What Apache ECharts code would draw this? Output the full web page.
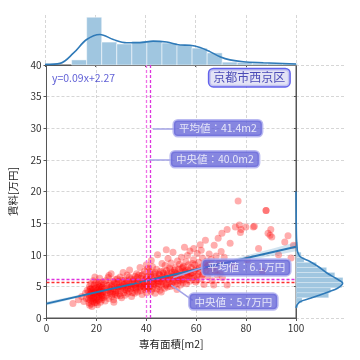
<!DOCTYPE html>
<html><head><meta charset="utf-8">
<script src="https://cdn.jsdelivr.net/npm/echarts@6.0.0/dist/echarts.min.js"></script>
<style>html,body{margin:0;padding:0;background:#fff;}#chart{width:360px;height:360px;}</style>
</head><body><div id="chart"></div>
<script>
// ---- data ----
// listings: [floor area m2, rent 万円]
const listings = [
[10.6,2.3],[12.8,2.9],[14.1,3.4],[15.0,2.6],[15.6,3.9],[16.0,3.1],[16.3,4.4],
[16.8,3.0],[16.9,4.2],[17.0,2.4],[17.1,3.6],[17.2,5.0],[17.3,2.0],[17.4,3.3],[17.5,4.6],[17.6,2.8],[17.7,3.9],
[17.8,5.4],[17.9,2.2],[18.0,3.5],[18.1,4.3],[18.2,1.8],[18.3,3.1],[18.4,4.8],[18.5,2.6],[18.6,3.8],[18.7,5.9],
[18.8,3.2],[18.9,4.5],[19.0,2.9],[19.1,4.0],[19.2,5.2],[19.3,2.4],[19.4,3.6],[19.5,4.7],[19.6,3.0],[19.7,4.2],
[19.8,5.6],[19.9,2.7],[20.0,3.9],[20.1,4.9],[20.2,3.3],[20.3,4.4],[20.4,2.1],[20.5,3.7],[20.6,5.3],[20.7,4.1],
[20.8,2.8],[20.9,4.6],[21.0,3.4],[21.1,5.0],[21.2,4.0],[21.3,6.3],[21.4,3.1],[21.5,4.3],[21.6,2.5],[21.7,3.8],
[21.8,5.1],[21.9,4.5],[22.0,3.5],[22.1,4.8],[22.2,2.9],[22.3,4.1],[22.4,5.7],[22.5,3.6],[22.5,4.9],[19.4,6.5],
[18.2,4.0],[20.0,2.4],[21.0,5.6],[17.7,4.6],[22.2,3.2],
[22.7,4.2],[22.9,5.4],[23.1,3.3],[23.3,4.7],[23.5,2.7],[23.7,5.9],[23.9,4.0],[24.1,3.6],[24.3,5.1],[24.5,4.4],
[24.7,6.4],[24.9,3.1],[25.1,4.8],[25.3,5.5],[25.5,3.9],[25.7,4.5],[25.9,7.0],[26.1,3.4],[26.3,5.2],[26.5,4.1],
[26.7,5.8],[26.9,2.9],[27.1,4.6],[27.3,5.0],[27.5,3.7],[27.7,6.1],[27.9,4.3],[28.1,5.4],[28.3,3.5],[28.5,4.9],
[25.0,6.7],[27.0,2.5],
[25.4,4.2],[26.0,5.0],[26.6,3.8],[27.2,5.6],[27.8,4.0],[28.4,6.2],[29.0,4.9],[29.6,3.5],[30.2,6.0],[30.8,5.1],
[31.4,4.5],[32.0,5.8],[32.6,4.7],[33.2,6.5],[33.8,5.2],[34.4,4.0],
[28.7,4.6],[28.9,5.8],[29.1,3.8],[29.3,5.2],[29.5,6.5],[29.7,4.3],[29.9,5.0],[30.1,3.2],[30.3,5.6],[30.5,4.7],
[30.7,7.2],[30.9,4.0],[31.1,5.3],[31.3,6.0],[31.5,3.6],[31.7,4.9],[31.9,5.5],[32.1,4.4],[32.3,6.8],[32.5,3.9],
[32.7,5.1],[32.9,5.9],[33.1,4.2],[33.3,7.6],[33.5,5.4],[33.7,4.6],[33.9,6.2],[34.1,3.4],[34.3,5.0],[34.5,5.7],
[34.7,4.8],[34.9,6.1],[35.1,5.3],[35.3,3.9],[35.5,6.6],[35.7,5.0],[35.9,4.4],[36.1,7.0],[36.3,5.6],[36.5,4.1],
[36.7,5.9],[36.9,6.8],[37.1,4.7],[37.3,5.4],[37.5,8.0],[37.7,4.3],[37.9,6.3],[38.1,5.1],[38.3,3.7],[38.5,5.8],
[38.7,6.9],[38.9,4.9],[39.1,5.5],[39.3,7.4],[39.5,4.5],[39.7,6.0],[39.9,5.2],[40.0,8.4],[40.1,4.0],[40.2,6.5],
[40.3,5.7],[40.4,7.8],[40.5,4.6],[36.0,5.5],
[35.2,5.9],[35.8,4.7],[36.4,6.4],[37.0,5.3],[37.6,4.9],[38.2,6.7],[38.8,5.6],[39.4,4.8],[40.0,6.2],[40.6,5.0],
[41.2,5.9],[41.8,6.9],[42.4,4.6],[43.0,5.5],[43.6,7.2],[44.2,6.0],[44.8,5.4],
[40.7,5.4],[40.9,6.7],[41.1,4.8],[41.3,6.1],[41.5,7.3],[41.7,5.1],[41.9,4.2],[42.1,6.4],[42.3,5.7],[42.5,8.1],
[42.7,4.9],[42.9,6.0],[43.1,7.0],[43.3,5.3],[43.5,3.9],[43.7,6.6],[43.9,5.6],[44.1,7.7],[44.3,4.6],[44.5,10.0],
[44.7,6.3],[44.9,5.0],[45.1,6.9],[45.3,5.8],[45.5,4.4],[45.7,7.4],[45.9,6.2],[46.1,5.2],[46.3,8.6],[46.5,6.5],
[42.0,9.1],[44.0,5.9],[46.0,4.1],[41.0,7.9],
[45.4,6.8],[46.0,5.7],[46.6,7.3],[47.2,6.2],[47.8,5.1],[48.4,7.0],[49.0,6.0],[49.6,7.7],[50.2,5.4],[50.8,6.6],
[51.4,7.2],[52.0,6.4],[52.6,5.5],[53.2,7.0],[53.8,6.3],[54.4,8.0],[55.0,6.0],[55.6,7.3],[56.2,6.7],[56.8,7.6],
[57.4,6.4],[58.0,7.1],[58.6,8.6],[59.4,7.5],[60.2,6.6],[61.2,7.9],[62.4,6.8],[63.6,8.0],
[46.7,5.7],[46.9,7.1],[47.1,6.0],[47.3,4.7],[47.5,8.3],[47.7,6.4],[47.9,5.3],[48.1,7.5],[48.3,6.8],[48.5,4.9],
[48.7,9.4],[48.9,6.2],[49.1,5.5],[49.3,7.9],[49.5,6.6],[49.7,5.0],[49.9,8.7],[50.1,6.3],[50.3,7.2],[50.5,5.6],
[50.7,10.4],[50.9,6.9],[51.1,5.1],[51.3,7.6],[51.5,6.1],[51.7,8.0],[51.9,5.8],[52.1,7.0],[52.3,4.5],[52.5,9.0],
[48.0,10.8],
[52.7,6.4],[52.9,7.7],[53.1,5.9],[53.3,8.5],[53.5,6.7],[53.7,5.2],[53.9,7.3],[54.1,9.6],[54.3,6.1],[54.5,7.9],
[54.7,5.6],[54.9,8.2],[55.1,6.9],[55.3,11.2],[55.5,7.5],[55.7,6.2],[55.9,8.9],[56.1,5.4],[56.3,7.1],[56.5,9.9],
[56.7,6.6],[56.9,8.4],[57.1,7.4],[57.3,5.8],[57.5,10.6],[57.7,7.0],[57.9,8.0],[58.3,6.3],
[58.7,7.2],[58.9,9.2],[59.2,6.5],[59.5,8.4],[59.8,5.7],[60.1,7.8],[60.4,10.2],[60.7,6.9],[61.0,8.8],[61.3,7.3],
[61.6,11.6],[61.9,6.2],[62.2,8.1],[62.5,9.5],[62.8,7.0],[63.1,5.3],[63.4,8.6],[63.7,12.3],[64.0,7.6],[64.3,9.0],
[60.0,6.0],[62.0,10.7],[59.0,11.0],[64.5,6.6],
[64.8,8.3],[65.2,10.1],[65.6,7.1],[66.0,9.3],[66.4,5.9],[66.8,8.0],[67.2,11.5],[67.0,5.2],[67.6,7.5],[68.0,9.8],
[68.4,6.8],[68.8,12.6],[69.2,8.7],[69.6,7.0],[70.0,10.5],[70.3,13.4],[70.5,6.4],
[71.2,9.6],[72.4,14.0],[72.4,5.2],[73.6,11.8],[75.0,8.2],[75.7,14.4],
[76.8,18.5],[77.3,14.7],[77.7,13.5],[78.0,14.0],[79.9,14.4],[80.5,9.2],
[82.9,14.4],[83.3,14.5],[85.0,11.0],[86.5,7.4],[88.0,17.0],[88.0,17.0],
[88.8,13.4],[89.6,13.1],[89.9,14.0],[90.3,12.8],[93.0,10.0],
[95.5,12.0],[96.8,13.0],[98.0,9.5],[99.0,11.5]
];

// marginal histogram of area (bin edges, counts)
const areaBinEdges = [10.6,16.6,22.6,28.6,34.6,40.6,46.6,52.6,58.6,64.6,70.6,76.6,82.6,88.6,94.6,100.6];
const areaBinCounts = [16,150,72,66,75,75,69,62,53,38,9,8,6,6,5];
// marginal KDE of area
const areaKdeX = [0,6,11.3,16.6,21.9,27.2,32.5,37.8,43.1,48.5,53.8,57.8,61.8,65.7,69.7,73.7,79,87,100];
const areaKdeY = [2,5,37,80,96,80,70,70,75,72,63,62,55,42,26,16,10,7,3];

// marginal histogram of rent
const rentBinEdges = [1.6,2.4,3.2,4.0,4.8,5.6,6.4,7.2,8.0,8.8,9.6,10.4,11.2,12.0];
const rentBinCounts = [2,6,32,34,45,46,38,30,20,8,5,2,1.5];
// marginal KDE of rent
const rentKdeY = [20,16,14,12.5,11.2,10.5,9.7,8.9,8.1,7.07,6.28,5.49,4.7,4.16,3.11,2.58,2.06,1.6];
const rentKdeW = [0,0.2,0.3,0.5,1,1.5,4,14,22,30.7,39,45.7,40.7,32.3,14,4,1,0];

// regression
const regSlope = 0.09, regIntercept = 2.27;
const bandX = [0,10,20,30,40,50,60,70,80,90,100];
const bandHalf = [0.3,0.22,0.15,0.1,0.08,0.1,0.16,0.26,0.4,0.55,0.72];

// statistics
const meanArea = 41.4, medianArea = 40.0, meanRent = 6.1, medianRent = 5.7;
const areaTicks = [0,20,40,60,80,100];
const rentTicks = [0,5,10,15,20,25,30,35,40];

const labels = {
  meanArea: '平均値：' + meanArea.toFixed(1) + 'm2',
  medianArea: '中央値：' + medianArea.toFixed(1) + 'm2',
  meanRent: '平均値：' + meanRent.toFixed(1) + '万円',
  medianRent: '中央値：' + medianRent.toFixed(1) + '万円',
  place: '京都市西京区',
  eq: 'y=' + regSlope.toFixed(2) + 'x+' + regIntercept.toFixed(2)
};

// ---- chart ----
const FONT = "'Noto Sans CJK JP','Noto Sans',sans-serif";
const topMax = 157, rightMax = 49;
const histFill = 'rgb(160,198,224)';
const kdeColor = '#2f7ab8';
const gridLine = {show:true, lineStyle:{color:'#cccccc', type:[3,2], width:0.8}};
const spine = '#555555';

const chart = echarts.init(document.getElementById('chart'), null, {renderer:'canvas'});

const boxStyle = {
  show:true, position:'inside', color:'#ffffff', fontSize:10.5, fontFamily:FONT,
  backgroundColor:'rgba(96,96,214,0.95)', borderColor:'#a9a9ee', borderWidth:1.5,
  borderRadius:4, padding:[3,5,2,5]
};
function boxLabel(pos, text){
  return {value:pos, label:Object.assign({}, boxStyle, {formatter:text})};
}

const arrowStyle = {color:'#a3a3e6', width:1.5, type:'solid'};

const option = {
  animation:false,
  textStyle:{fontFamily:FONT},
  grid:[
    {left:45, top:65, width:251, height:253, show:true, borderColor:spine, borderWidth:1, backgroundColor:'transparent'},
    {left:45, top:15, width:251, height:50},
    {left:296, top:65, width:50, height:253}
  ],
  xAxis:[
    {gridIndex:0, type:'value', min:0, max:100, interval:20,
     name:'専有面積[m2]', nameLocation:'middle', nameGap:21,
     nameTextStyle:{fontSize:10.5, color:'#222', fontFamily:FONT},
     axisLine:{show:true, lineStyle:{color:spine}}, axisTick:{show:true, length:3, lineStyle:{color:spine}},
     axisLabel:{fontSize:10, color:'#333', margin:5, fontFamily:FONT}, splitLine:gridLine},
    {gridIndex:1, type:'value', min:0, max:100, interval:20,
     axisLine:{show:true, lineStyle:{color:spine}}, axisTick:{show:true, length:2, lineStyle:{color:spine}},
     axisLabel:{show:false}, splitLine:gridLine},
    {gridIndex:2, type:'value', min:0, max:rightMax, show:false}
  ],
  yAxis:[
    {gridIndex:0, type:'value', min:0, max:40, interval:5,
     name:'賃料[万円]', nameLocation:'middle', nameGap:28, nameRotate:90,
     nameTextStyle:{fontSize:10.5, color:'#222', fontFamily:FONT},
     axisLine:{show:true, lineStyle:{color:spine}}, axisTick:{show:true, length:3, lineStyle:{color:spine}},
     axisLabel:{fontSize:10, color:'#333', margin:5, fontFamily:FONT}, splitLine:gridLine},
    {gridIndex:1, type:'value', min:0, max:topMax, show:false},
    {gridIndex:2, type:'value', min:0, max:40, interval:5,
     axisLine:{show:true, lineStyle:{color:spine}}, axisTick:{show:true, length:2, lineStyle:{color:spine}},
     axisLabel:{show:false}, splitLine:gridLine}
  ],
  series:[
    {type:'scatter', xAxisIndex:0, yAxisIndex:0, data:listings, symbolSize:7, z:2,
     itemStyle:{color:'rgba(255,0,0,0.4)', borderWidth:0}},
    {type:'custom', xAxisIndex:0, yAxisIndex:0, data:[[0,0]], z:3, silent:true,
     renderItem:function(params, api){
       const up = bandX.map((x,i)=>api.coord([x, regIntercept+regSlope*x+bandHalf[i]]));
       const lo = bandX.map((x,i)=>api.coord([x, regIntercept+regSlope*x-bandHalf[i]])).reverse();
       return {type:'polygon', shape:{points:up.concat(lo)}, style:{fill:'rgba(31,119,180,0.2)'}};
     }},
    {type:'line', xAxisIndex:0, yAxisIndex:0, z:4, symbol:'none', silent:true,
     data:[[0, regIntercept],[100, regIntercept+regSlope*100]],
     lineStyle:{color:'#2a77b5', width:2}},
    {type:'scatter', xAxisIndex:0, yAxisIndex:0, data:[], z:5, silent:true,
     markLine:{silent:true, symbol:'none', label:{show:false}, animation:false,
       data:[
         {xAxis:medianArea, lineStyle:{color:'#f070e6', type:[3,2], width:1.3}},
         {xAxis:meanArea, lineStyle:{color:'#dd33dd', type:[3,2], width:1.3}},
         {yAxis:meanRent, lineStyle:{color:'#dd33dd', type:[3,2], width:1.3}},
         {yAxis:medianRent, lineStyle:{color:'#ff2d2d', type:[3,2], width:1.3}}
       ]}},
    {type:'scatter', xAxisIndex:0, yAxisIndex:0, data:[], z:6, silent:true,
     markLine:{silent:true, symbol:['none','arrow'], symbolSize:[0,7], label:{show:false}, animation:false,
       data:[
         [{coord:[51.6,30], lineStyle:Object.assign({curveness:0}, arrowStyle)},{coord:[42.6,30]}],
         [{coord:[50.4,25], lineStyle:Object.assign({curveness:0}, arrowStyle)},{coord:[41.2,25]}],
         [{coord:[63.6,8.1], lineStyle:Object.assign({curveness:0.15}, arrowStyle)},{coord:[50.8,6.4]}],
         [{coord:[58.6,2.8], lineStyle:Object.assign({curveness:0.35}, arrowStyle)},{coord:[50.0,5.2]}]
       ]}},
    {type:'scatter', xAxisIndex:0, yAxisIndex:0, z:10, silent:true, symbolSize:1,
     itemStyle:{color:'rgba(0,0,0,0)'},
     data:[
       boxLabel([68.7,30.0], labels.meanArea),
       boxLabel([67.5,25.1], labels.medianArea),
       boxLabel([80.1,8.0], labels.meanRent),
       boxLabel([74.9,2.6], labels.medianRent),
       {value:[81.3,38.0], label:{show:true, position:'inside', formatter:labels.place, color:'#2424a6', fontSize:12, fontFamily:FONT,
         backgroundColor:'#dcdcf2', borderColor:'#3b3be6', borderWidth:1.5, borderRadius:4, padding:[3,4,2,4]}},
       {value:[2.0,37.9], label:{show:true, position:'right', distance:0, formatter:labels.eq, color:'#3838cc', fontSize:10.5, fontFamily:FONT}}
     ]},
    // top marginal
    {type:'custom', xAxisIndex:1, yAxisIndex:1, z:2, silent:true,
     data:areaBinCounts.map((c,i)=>[areaBinEdges[i], areaBinEdges[i+1], c]),
     encode:{x:[0,1], y:2},
     renderItem:function(params, api){
       const p0 = api.coord([api.value(0), 0]);
       const p1 = api.coord([api.value(1), api.value(2)]);
       return {type:'rect', shape:{x:p0[0], y:p1[1], width:p1[0]-p0[0], height:p0[1]-p1[1]},
               style:{fill:histFill, stroke:'#ffffff', lineWidth:0.5}};
     }},
    {type:'line', xAxisIndex:1, yAxisIndex:1, z:3, symbol:'none', smooth:0.35, silent:true,
     data:areaKdeX.map((x,i)=>[x, areaKdeY[i]]), lineStyle:{color:kdeColor, width:1.6}},
    // right marginal
    {type:'custom', xAxisIndex:2, yAxisIndex:2, z:2, silent:true,
     data:rentBinCounts.map((c,i)=>[rentBinEdges[i], rentBinEdges[i+1], c]),
     encode:{x:2, y:[0,1]},
     renderItem:function(params, api){
       const p0 = api.coord([0, api.value(0)]);
       const p1 = api.coord([api.value(2), api.value(1)]);
       return {type:'rect', shape:{x:p0[0], y:p1[1], width:p1[0]-p0[0], height:p0[1]-p1[1]},
               style:{fill:histFill, stroke:'rgba(255,255,255,0.6)', lineWidth:0.4}};
     }},
    {type:'line', xAxisIndex:2, yAxisIndex:2, z:3, symbol:'none', smooth:0.35, silent:true,
     data:rentKdeY.map((y,i)=>[rentKdeW[i], y]), lineStyle:{color:kdeColor, width:1.6}}
  ]
};
chart.setOption(option);
</script></body></html>
